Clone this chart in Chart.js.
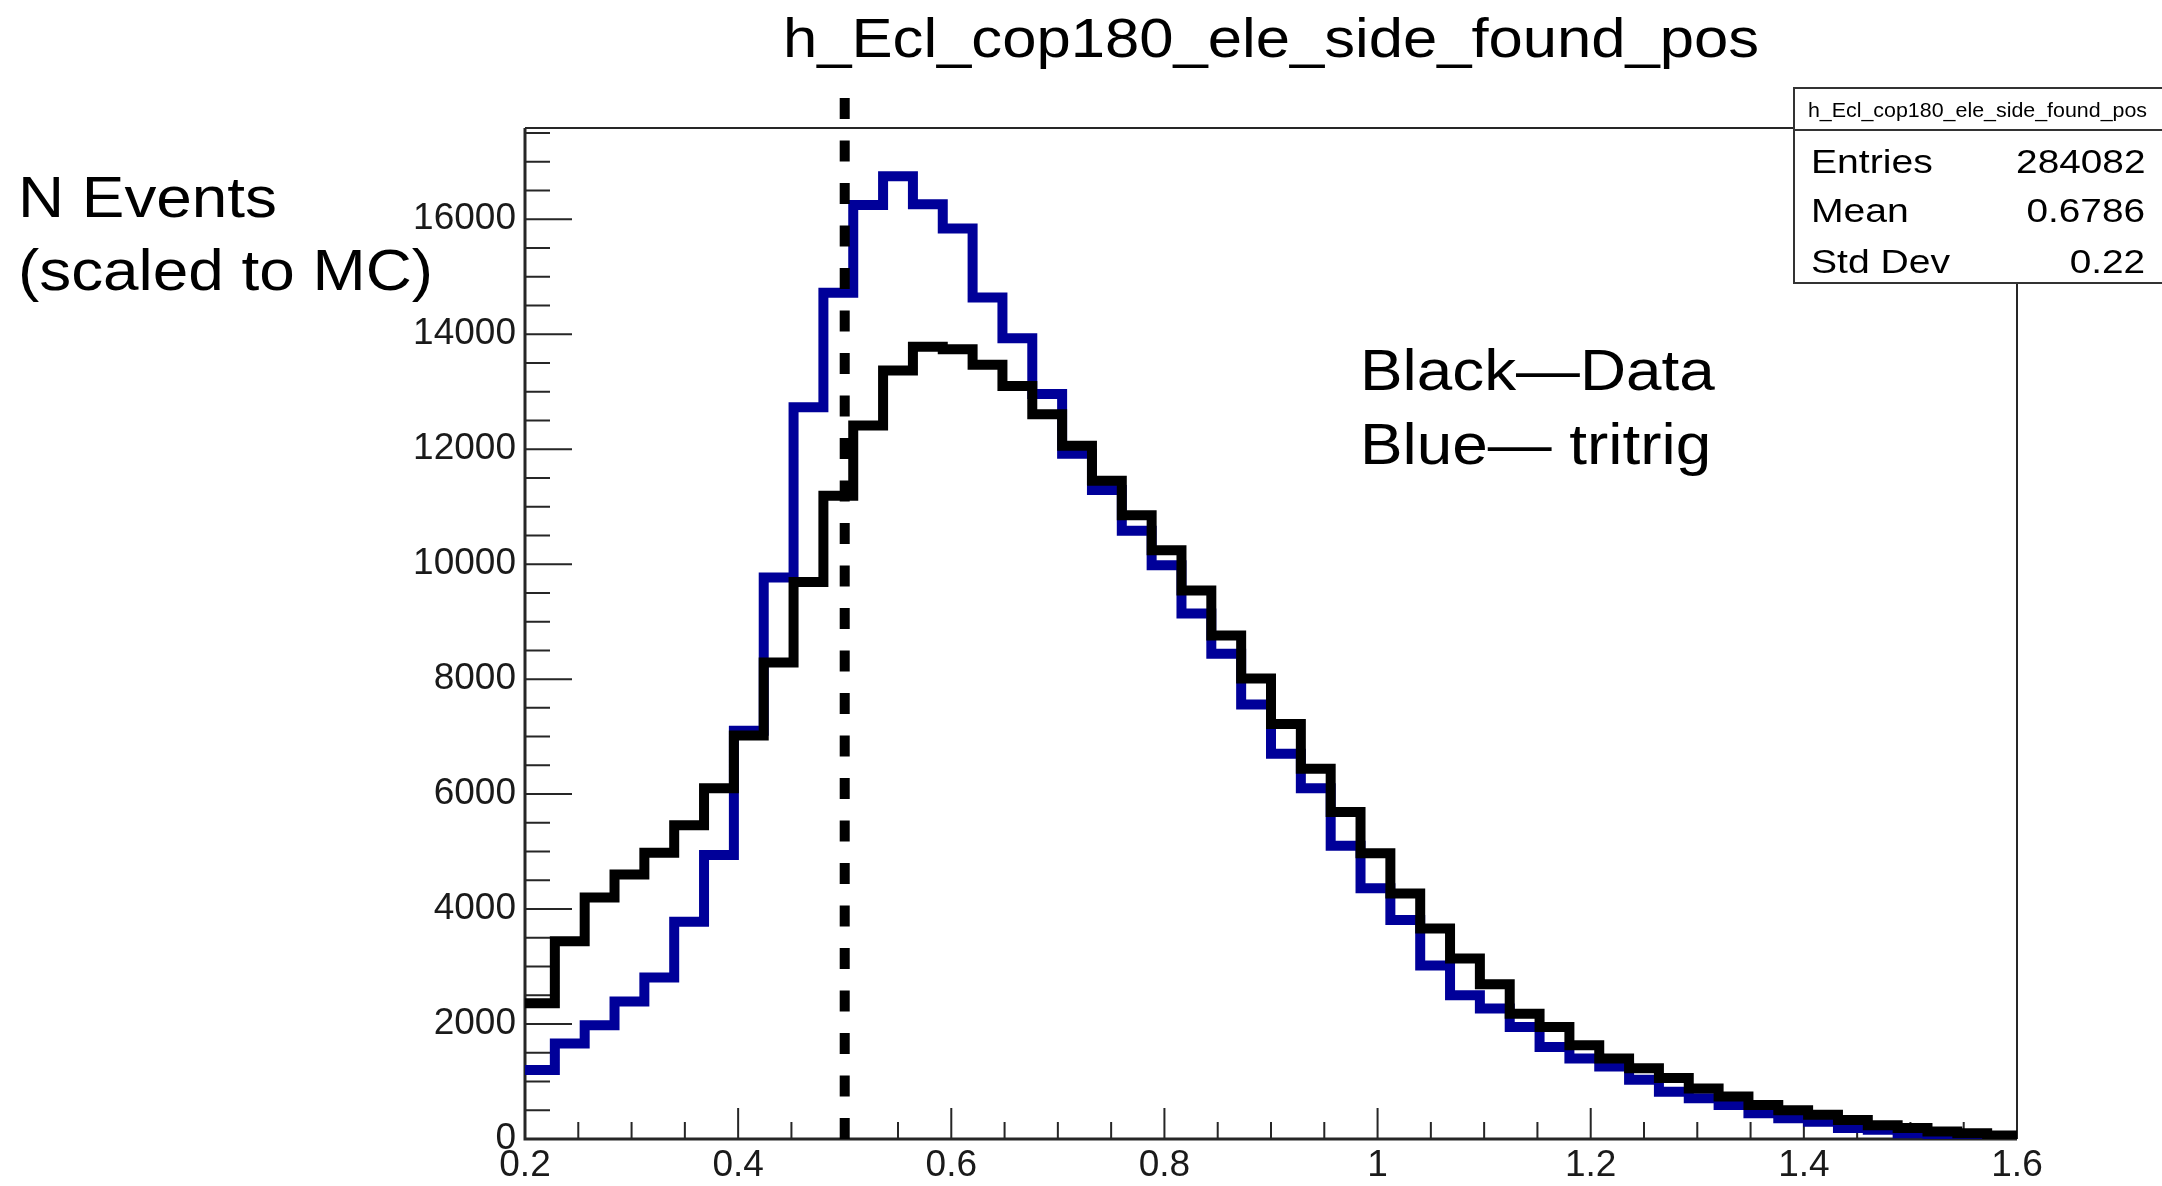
<!DOCTYPE html>
<html lang="en">
<head>
<meta charset="UTF-8">
<title>h_Ecl_cop180_ele_side_found_pos</title>
<style>
  html, body { margin: 0; padding: 0; background: #fff; }
  #wrap { position: relative; width: 2162px; height: 1186px; overflow: hidden;
          font-family: "Liberation Sans", Arial, sans-serif; color: #000; }
  #wrap canvas { position: absolute; left: 0; top: 0; }
  .txt { position: absolute; white-space: nowrap; line-height: 1; transform-origin: left top; }
  .title { left: 783px; top: 11px; font-size: 55px; transform: scaleX(1.12); }
  .big { font-size: 57px; transform: scaleX(1.12); }
  #stats { position: absolute; left: 1793px; top: 87px; width: 400px; height: 197px;
           box-sizing: border-box; border: 2px solid #333; background: #fff; }
  #statsSep { position: absolute; left: 1793px; top: 129px; width: 400px; height: 2px; background: #333; }
  .head { left: 1793px; width: 369px; top: 100px; font-size: 20px; text-align: center;
          transform-origin: center top; transform: scaleX(1.07); }
  .stat { font-size: 34px; transform: scaleX(1.15); }
  .statv { font-size: 34px; transform-origin: right top; transform: scaleX(1.14); right: 17px; }
</style>
</head>
<body>
<div id="wrap">
  <canvas id="histo"></canvas>

  <div class="txt title">h_Ecl_cop180_ele_side_found_pos</div>

  <div class="txt big" style="left:18px; top:169px;">N Events</div>
  <div class="txt big" style="left:18px; top:242px;">(scaled to MC)</div>

  <div class="txt big" style="left:1360px; top:342px;">Black—Data</div>
  <div class="txt big" style="left:1360px; top:416px;">Blue— tritrig</div>

  <div id="stats"></div>
  <div id="statsSep"></div>
  <div class="txt head">h_Ecl_cop180_ele_side_found_pos</div>
  <div class="txt stat" style="left:1811px; top:144px;">Entries</div>
  <div class="txt statv" style="top:144px;">284082</div>
  <div class="txt stat" style="left:1811px; top:193px;">Mean</div>
  <div class="txt statv" style="top:193px;">0.6786</div>
  <div class="txt stat" style="left:1811px; top:244px;">Std Dev</div>
  <div class="txt statv" style="top:244px;">0.22</div>
</div>

<script src="https://cdn.jsdelivr.net/npm/chart.js"></script>
<script>
// histogram range (50 equal bins between xLow and xHigh)
const xLow = 0.2;
const xHigh = 1.6;

// black: data, scaled to MC
const dataCounts = [
  2360, 3440, 4200, 4600, 4980, 5460, 6100, 7020, 8290, 9690,
  11190, 12410, 13370, 13780, 13740, 13470, 13100, 12610, 12060, 11450,
  10850, 10240, 9540, 8760, 8010, 7220, 6440, 5690, 4970, 4270,
  3660, 3140, 2690, 2180, 1950, 1630, 1400, 1230, 1060, 880,
  740, 590, 500, 420, 330, 240, 190, 130, 100, 60
];

// blue: tritrig MC
const tritrigCounts = [
  1200, 1660, 1980, 2390, 2810, 3780, 4940, 7100, 9770, 12730,
  14720, 16250, 16750, 16260, 15840, 14640, 13930, 12960, 11920, 11290,
  10580, 9980, 9140, 8440, 7560, 6700, 6100, 5100, 4360, 3810,
  3020, 2500, 2270, 1950, 1600, 1400, 1260, 1030, 820, 710,
  590, 450, 360, 300, 190, 160, 100, 70, 50, 30
];

const xTickValues = [0.2, 0.4, 0.6, 0.8, 1.0, 1.2, 1.4, 1.6];
const xTickLabels = ['0.2', '0.4', '0.6', '0.8', '1', '1.2', '1.4', '1.6'];
const yTickValues = [0, 2000, 4000, 6000, 8000, 10000, 12000, 14000, 16000];
const yTickLabels = ['0', '2000', '4000', '6000', '8000', '10000', '12000', '14000', '16000'];

// dashed cut line at x = 0.5, drawn a bit above the frame
const cutX = 0.5;
const cutTop = 18150;

const axisColor = '#262626';
const xMinorStep = 0.05;
const yMinorStep = 500;

// left bin edges plus the closing edge, for a stepped outline
function stepPoints(counts) {
  const w = (xHigh - xLow) / counts.length;
  const pts = counts.map((c, i) => ({ x: xLow + i * w, y: c }));
  pts.push({ x: xHigh, y: counts[counts.length - 1] });
  return pts;
}

// ROOT style frame with inward ticks
const rootFrame = {
  id: 'rootFrame',
  beforeDatasetsDraw(chart) {
    const { ctx, chartArea: a, scales: { x, y } } = chart;
    ctx.save();
    ctx.strokeStyle = axisColor;

    ctx.lineWidth = 2;
    ctx.beginPath();
    ctx.moveTo(a.left, a.top);
    ctx.lineTo(a.right, a.top);
    ctx.lineTo(a.right, a.bottom);
    ctx.stroke();

    ctx.lineWidth = 3;
    ctx.beginPath();
    ctx.moveTo(a.left, a.top);
    ctx.lineTo(a.left, a.bottom);
    ctx.lineTo(a.right, a.bottom);
    ctx.stroke();

    ctx.lineWidth = 2;
    ctx.beginPath();
    const nx = Math.round((x.max - x.min) / xMinorStep);
    for (let i = 0; i <= nx; i++) {
      const px = x.getPixelForValue(x.min + i * xMinorStep);
      const len = i % 4 === 0 ? 31 : 17;
      ctx.moveTo(px, a.bottom);
      ctx.lineTo(px, a.bottom - len);
    }
    for (let v = 0; v <= y.max; v += yMinorStep) {
      const py = y.getPixelForValue(v);
      const len = v % 2000 === 0 ? 47 : 25;
      ctx.moveTo(a.left, py);
      ctx.lineTo(a.left + len, py);
    }
    ctx.stroke();
    ctx.restore();
  },
  afterDatasetsDraw(chart) {
    const { ctx, scales: { x, y } } = chart;
    const px = x.getPixelForValue(cutX);
    ctx.save();
    ctx.strokeStyle = '#000';
    ctx.lineWidth = 10;
    ctx.setLineDash([21, 21.5]);
    ctx.beginPath();
    ctx.moveTo(px, y.getPixelForValue(0));
    ctx.lineTo(px, y.getPixelForValue(cutTop));
    ctx.stroke();
    ctx.restore();
  }
};

const tickFont = { family: '"Liberation Sans", Arial, sans-serif', size: 37 };

new Chart(document.getElementById('histo'), {
  type: 'line',
  data: {
    datasets: [
      {
        label: 'Data',
        data: stepPoints(dataCounts),
        borderColor: '#000000',
        borderWidth: 10,
        stepped: true,
        pointRadius: 0,
        fill: false
      },
      {
        label: 'tritrig',
        data: stepPoints(tritrigCounts),
        borderColor: '#000099',
        borderWidth: 10,
        stepped: true,
        pointRadius: 0,
        fill: false
      }
    ]
  },
  options: {
    responsive: true,
    maintainAspectRatio: false,
    animation: false,
    events: [],
    layout: { padding: { left: 0, top: 128, right: 145, bottom: 0 } },
    plugins: { legend: { display: false }, tooltip: { enabled: false } },
    scales: {
      x: {
        type: 'linear',
        min: xLow,
        max: xHigh,
        grid: { display: false, drawTicks: false },
        border: { display: false },
        afterBuildTicks: s => { s.ticks = xTickValues.map(v => ({ value: v })); },
        afterFit: s => { s.height = 47; },
        ticks: {
          font: tickFont,
          color: '#1a1a1a',
          padding: 5,
          maxRotation: 0,
          callback: (v, i) => xTickLabels[i]
        }
      },
      y: {
        min: 0,
        max: 1.05 * Math.max(...tritrigCounts),
        grid: { display: false, drawTicks: false },
        border: { display: false },
        afterBuildTicks: s => { s.ticks = yTickValues.map(v => ({ value: v })); },
        afterFit: s => { s.width = 525; },
        ticks: {
          font: tickFont,
          color: '#1a1a1a',
          padding: 9,
          callback: (v, i) => yTickLabels[i]
        }
      }
    }
  },
  plugins: [rootFrame]
});
</script>
</body>
</html>
